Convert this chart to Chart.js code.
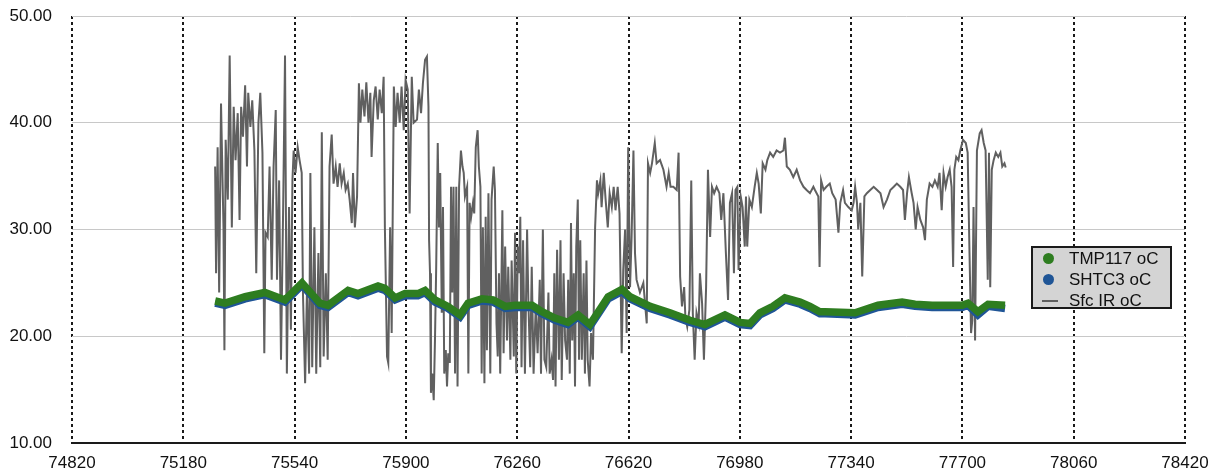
<!DOCTYPE html>
<html lang="en">
<head>
    <meta charset="UTF-8">
    <title>Temperaturas</title>
    <script src="https://cdn.jsdelivr.net/npm/chart.js"></script>
    <style>
        body { margin: 0; background: #fff; }
        #wrap { position: relative; width: 1218px; height: 471px; }
        #temp-chart { display: block; }
        #legend {
            position: absolute; left: 1031px; top: 246px; width: 137px; height: 59px;
            background: #d4d4d4; border: 2px solid #1a1a1a;
            font: 17px "Liberation Sans", Arial, sans-serif; color: #111;
        }
        #legend div { position: relative; height: 21px; line-height: 21px; padding-left: 36px; }
        #legend .dot { position: absolute; left: 10px; top: 5px; width: 11px; height: 11px; border-radius: 50%; }
        #legend .bar { position: absolute; left: 9px; top: 10px; width: 16px; height: 2px; }
    </style>
</head>
<body>
<div id="wrap">
    <canvas id="temp-chart" width="1218" height="471"></canvas>
    <div id="legend"></div>
</div>

<script>
// tempo (s) e temperaturas
const sensorTimes = [75283, 75315, 75380, 75444, 75509, 75564, 75622, 75648, 75713, 75745, 75810, 75832, 75865, 75897, 75939,
    75962, 75994, 76036, 76075, 76101, 76146, 76182, 76221, 76253, 76308, 76340, 76382, 76424, 76457, 76495, 76534, 76554,
    76599, 76625, 76690, 76754, 76819, 76867, 76932, 76981, 77013, 77045, 77087, 77126, 77175, 77207, 77239, 77256, 77353,
    77427, 77505, 77547, 77602, 77654, 77699, 77718, 77750, 77783, 77838];
const tmp117 = [23.3, 23.1, 23.7, 24.1, 23.4, 25.0, 23.1, 22.9, 24.3, 24.0, 24.7, 24.5, 23.6, 24.0, 24.0,
    24.3, 23.4, 22.8, 22.0, 23.1, 23.5, 23.4, 22.8, 22.9, 22.9, 22.3, 21.7, 21.3, 22.0, 21.1, 22.8, 23.7,
    24.4, 23.7, 22.8, 22.2, 21.5, 21.1, 22.0, 21.3, 21.2, 22.2, 22.8, 23.6, 23.2, 22.8, 22.3, 22.3, 22.2,
    22.9, 23.2, 23.0, 22.9, 22.9, 22.9, 23.1, 22.3, 23.0, 22.9];
const shtc3 = [23.1, 22.9, 23.5, 23.9, 23.2, 24.8, 22.9, 22.7, 24.1, 23.8, 24.5, 24.3, 23.4, 23.8, 23.8,
    24.1, 23.2, 22.6, 21.8, 22.9, 23.3, 23.2, 22.6, 22.7, 22.7, 22.1, 21.5, 21.1, 21.8, 20.9, 22.6, 23.5,
    24.2, 23.5, 22.6, 22.0, 21.3, 20.9, 21.8, 21.1, 21.0, 22.0, 22.6, 23.4, 23.0, 22.6, 22.1, 22.1, 22.0,
    22.7, 23.0, 22.8, 22.7, 22.7, 22.7, 22.9, 22.0, 22.8, 22.6];

const irTimes = [75283, 75286, 75291, 75296, 75302, 75310, 75313, 75317, 75324, 75330, 75337, 75343, 75349, 75356, 75362,
    75367, 75373, 75380, 75386, 75390, 75397, 75403, 75410, 75416, 75423, 75429, 75436, 75442, 75446, 75453, 75459, 75466,
    75472, 75479, 75483, 75490, 75496, 75503, 75509, 75515, 75522, 75528, 75533, 75537, 75543, 75550, 75556, 75563, 75567,
    75574, 75580, 75587, 75591, 75597, 75604, 75610, 75617, 75623, 75628, 75634, 75641, 75647, 75653, 75660, 75666, 75673,
    75679, 75686, 75692, 75699, 75705, 75712, 75718, 75725, 75729, 75735, 75742, 75748, 75753, 75759, 75766, 75772, 75779,
    75785, 75789, 75796, 75802, 75809, 75815, 75822, 75828, 75832, 75839, 75843, 75849, 75854, 75861, 75867, 75873, 75880,
    75886, 75893, 75899, 75906, 75912, 75919, 75925,
    75936, 75942, 75949, 75955, 75962, 75968, 75973, 75975, 75978, 75981, 75985, 75990, 75994, 75998, 76003, 76007, 76011,
    76016, 76020, 76024, 76029, 76033, 76037, 76042, 76046, 76050, 76054, 76059, 76063, 76067, 76072, 76078, 76083, 76087,
    76091, 76098, 76102, 76106, 76111, 76117, 76121, 76126, 76132, 76136, 76141, 76145, 76149, 76154, 76158, 76162, 76167,
    76173, 76177, 76184, 76188, 76193, 76197, 76201, 76205, 76212, 76216, 76221, 76227, 76231, 76238, 76242, 76249, 76253,
    76257, 76262, 76266, 76270, 76274, 76279, 76285, 76292, 76296, 76302, 76307, 76313, 76320, 76326, 76333, 76337, 76343,
    76348, 76354, 76361, 76365, 76371, 76376, 76380, 76384, 76389, 76395, 76400, 76404, 76410, 76415, 76421, 76425, 76430,
    76434, 76438, 76443, 76447, 76451, 76456, 76460, 76464, 76469, 76475, 76479, 76484, 76488, 76494, 76499, 76505, 76512,
    76518, 76522, 76529, 76533, 76540, 76546, 76553, 76559, 76566, 76572, 76578, 76585, 76591,
    76598, 76603, 76609, 76614, 76619, 76625, 76630, 76636, 76641, 76646, 76657, 76668, 76679, 76683, 76690, 76696, 76705,
    76711, 76722, 76733, 76743, 76750, 76756, 76765, 76776, 76782, 76787, 76793, 76800, 76804, 76810, 76817, 76823, 76828,
    76834, 76840, 76847, 76851, 76858, 76864, 76871, 76877, 76884, 76890, 76897, 76905, 76914, 76920, 76927, 76935, 76942,
    76948, 76955, 76961, 76966, 76972, 76976, 76983, 76989, 76996, 77000, 77004, 77011, 77019, 77028, 77035, 77041, 77048,
    77054, 77063, 77069, 77078, 77088, 77099, 77110, 77121, 77126, 77132, 77142, 77153, 77164, 77175, 77186, 77196, 77207,
    77218,
    77223, 77234, 77238, 77243, 77251, 77260, 77271, 77279, 77290, 77299, 77305, 77314, 77320, 77331, 77342, 77348, 77353,
    77359, 77363, 77370, 77376, 77383, 77391, 77402, 77413, 77424, 77435, 77445, 77456, 77467, 77478, 77488, 77499, 77508,
    77514, 77521, 77527, 77536, 77542, 77549, 77555, 77564, 77573, 77579, 77585, 77594, 77603, 77611, 77620, 77626, 77633,
    77639, 77646, 77652, 77659, 77665, 77670, 77674, 77680, 77687, 77693, 77702, 77711, 77717, 77723, 77728, 77732, 77736,
    77741, 77747, 77756, 77762, 77769, 77775, 77782, 77786, 77790, 77795, 77801, 77808, 77816, 77823, 77829, 77836, 77840];
const irTemps = [35.9, 25.9, 37.7, 24.1, 41.8, 30.2, 18.7, 38.4, 32.8, 46.3, 30.2, 41.5, 36.5, 40.9, 30.9,
    41.5, 38.7, 43.5, 35.9, 42.8, 39.6, 42.1, 37.4, 25.9, 40.0, 42.8, 37.2, 18.4, 29.7, 29.3, 35.9, 25.3,
    35.9, 41.2, 25.3, 34.6, 17.8, 32.1, 46.3, 16.5, 32.1, 20.6, 34.6, 37.4, 35.3, 37.7, 36.5, 35.3, 24.1,
    15.6, 24.3, 16.5, 35.3, 17.1, 30.2, 16.5, 27.8, 17.1, 39.1, 18.1, 25.9, 17.8, 35.9, 38.9, 34.3, 35.9,
    34.0, 36.2, 34.3, 35.3, 33.7, 34.3, 32.8, 30.6, 35.3, 30.2, 33.1, 43.7, 40.0, 43.1, 40.6, 43.8, 40.0,
    42.8, 36.8, 42.1, 43.4, 40.3, 43.1, 40.9, 44.3, 30.2, 18.1, 17.5, 30.2, 20.3, 43.4, 39.6, 42.8, 40.0,
    43.4, 39.3, 44.0, 43.1, 31.5, 44.3, 40.0,
    40.3, 43.1, 40.9, 43.7, 45.9, 46.2, 41.5, 29.0, 25.9, 14.7, 16.5, 14.0, 19.6, 26.5, 38.1, 30.2, 35.3,
    22.2, 32.1, 16.5, 18.7, 15.3, 18.4, 17.5, 34.0, 24.1, 34.0, 16.5, 34.0, 15.3, 34.0, 37.4, 35.9, 35.3,
    33.1, 34.0, 16.5, 32.5, 31.2, 32.5, 31.5, 37.7, 39.3, 35.9, 34.0, 16.5, 30.2, 15.6, 31.2, 18.7, 33.4,
    16.5, 32.8, 35.9, 33.7, 21.2, 18.1, 25.9, 16.5, 31.8, 18.4, 28.4, 19.6, 26.5, 17.8, 27.1, 18.1, 29.7,
    16.5, 28.4, 25.9, 31.2, 17.1, 29.0, 16.5, 30.0, 23.4, 17.1, 26.5, 16.5, 22.8, 18.4, 25.3, 16.5, 30.0,
    17.8, 17.1, 24.1, 16.5, 17.8, 15.9, 25.9, 15.3, 28.1, 17.8, 29.0, 15.9, 25.9, 19.6, 17.8, 25.3, 16.5,
    30.6, 19.6, 25.9, 15.3, 28.4, 32.8, 17.8, 29.0, 17.8, 25.9, 16.5, 27.1, 17.8, 15.3, 20.3, 17.8, 30.2,
    34.6, 33.4, 34.6, 32.1, 35.3, 32.8, 30.2, 33.4, 32.1, 34.0, 31.8, 34.0, 31.5,
    18.4, 26.2, 30.0, 20.3, 37.7, 24.6, 29.3, 37.4, 27.8, 25.3, 24.1, 25.0, 21.2, 36.2, 35.3, 36.2, 38.1,
    36.2, 36.5, 35.6, 34.0, 35.3, 34.0, 34.0, 33.7, 37.2, 25.6, 22.8, 24.6, 21.8, 20.9, 22.5, 34.6, 22.2,
    17.8, 22.2, 21.2, 25.9, 23.1, 17.8, 24.6, 35.6, 29.3, 34.0, 33.4, 34.0, 33.4, 30.9, 33.4, 27.8, 23.4,
    32.5, 33.4, 25.9, 33.7, 34.0, 26.2, 33.1, 32.1, 28.4, 33.1, 28.4, 32.8, 32.1, 34.0, 35.3, 34.3, 31.5,
    36.2, 35.6, 36.5, 37.2, 36.8, 37.4, 37.2, 37.4, 38.6, 35.9, 35.6, 34.9, 35.6, 34.6, 34.0, 33.7, 33.4,
    34.0,
    33.7, 33.1, 26.5, 34.6, 33.7, 34.0, 34.3, 33.4, 32.8, 29.7, 32.5, 33.7, 32.5, 32.1, 31.8, 32.5, 34.0,
    32.5, 30.0, 32.5, 25.6, 33.1, 33.4, 33.7, 34.0, 33.7, 33.4, 32.1, 32.8, 33.7, 34.0, 34.3, 34.0, 33.7,
    30.9, 33.4, 34.9, 33.4, 32.5, 30.0, 32.1, 30.9, 30.2, 29.0, 32.8, 34.3, 34.0, 34.6, 34.0, 35.3, 31.8,
    35.3, 34.0, 34.9, 35.6, 34.0, 26.5, 35.6, 36.8, 36.5, 37.4, 38.4, 38.1, 37.2, 27.8, 20.3, 21.5, 32.1,
    19.6, 37.4, 39.0, 39.3, 38.1, 37.4, 25.3, 37.2, 24.6, 35.6, 36.5, 37.2, 36.8, 37.2, 35.9, 36.2, 35.8];

const xMin = 74820, xMax = 78420, xStep = 360;
const yMin = 10, yMax = 50, yStep = 10;

const labels = ['TMP117 oC', 'SHTC3 oC', 'Sfc IR oC'];
const colors = ['#2e7d20', '#1f5596', '#606060'];

const pts = (xs, ys) => xs.map((x, i) => ({ x: x, y: ys[i] }));
const font = { family: '"Liberation Sans", Arial, sans-serif', size: 17 };

const ctx = document.getElementById('temp-chart').getContext('2d');
const chart = new Chart(ctx, {
    type: 'scatter',
    data: {
        datasets: [
            { label: labels[0], data: pts(sensorTimes, tmp117), showLine: true, borderColor: colors[0], backgroundColor: colors[0],
              borderWidth: 7.5, pointRadius: 0, tension: 0 },
            { label: labels[1], data: pts(sensorTimes, shtc3), showLine: true, borderColor: colors[1], backgroundColor: colors[1],
              borderWidth: 7.5, pointRadius: 0, tension: 0 },
            { label: labels[2], data: pts(irTimes, irTemps), showLine: true, borderColor: colors[2], backgroundColor: colors[2],
              borderWidth: 2, pointRadius: 0, tension: 0 }
        ]
    },
    options: {
        responsive: false,
        animation: false,
        layout: { padding: { top: 16, right: 33, left: 0, bottom: 0 } },
        plugins: { legend: { display: false }, tooltip: { enabled: false } },
        scales: {
            x: {
                type: 'linear', min: xMin, max: xMax,
                ticks: { stepSize: xStep, color: '#111', font: font, padding: 0, maxRotation: 0,
                         callback: v => String(v) },
                grid: { color: '#1a1a1a', lineWidth: 2, drawTicks: true, tickLength: 10, tickColor: 'rgba(0,0,0,0)' },
                border: { display: true, color: '#1a1a1a', width: 2, dash: [3, 3], z: 1 },
                afterFit: s => { s.height = 28; }
            },
            y: {
                min: yMin, max: yMax,
                ticks: { stepSize: yStep, color: '#111', font: font, padding: 0,
                         callback: v => v.toFixed(2) },
                grid: { color: ctx => ctx.tick && ctx.tick.value === yMin ? 'rgba(0,0,0,0)' : '#c8c8c8', lineWidth: 1,
                        drawTicks: true, tickLength: 20, tickColor: 'rgba(0,0,0,0)' },
                border: { display: false },
                afterFit: s => { s.width = 72; }
            }
        }
    }
});

// legenda em HTML com fundo cinza
const legend = document.getElementById('legend');
labels.forEach((name, i) => {
    const row = document.createElement('div');
    const mark = document.createElement('span');
    mark.className = i < 2 ? 'dot' : 'bar';
    mark.style.background = colors[i];
    row.appendChild(mark);
    row.appendChild(document.createTextNode(name));
    legend.appendChild(row);
});
</script>
</body>
</html>
